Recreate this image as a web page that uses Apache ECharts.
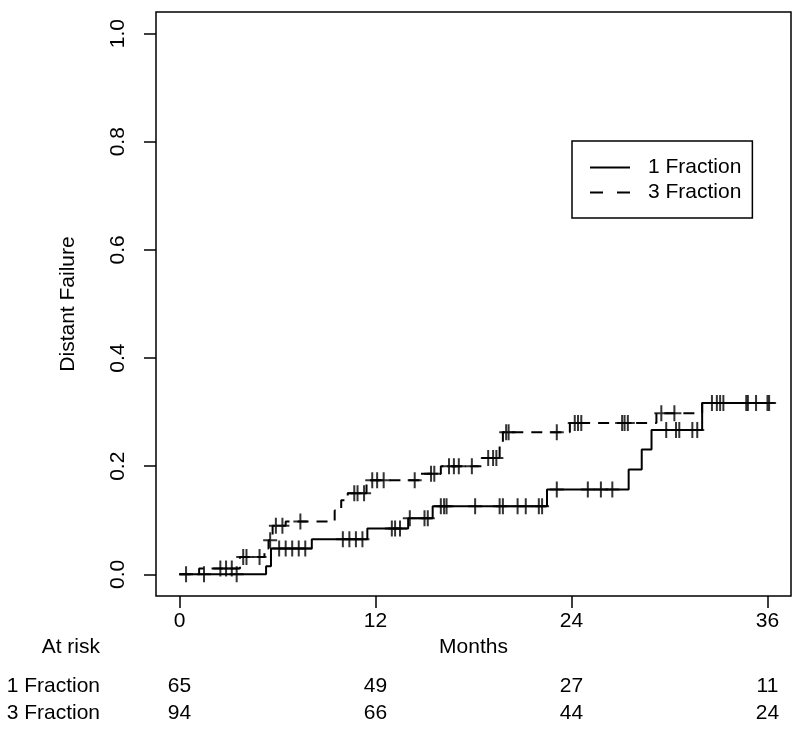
<!DOCTYPE html>
<html>
<head>
<meta charset="utf-8">
<script src="https://cdn.jsdelivr.net/npm/echarts@6/dist/echarts.min.js"></script>
<style>
  html, body { margin: 0; padding: 0; background: #fff; }
  #main { width: 800px; height: 730px; }
</style>
</head>
<body>
<div id="main"></div>
<script>
var FONT = '"Liberation Sans", Arial, Helvetica, sans-serif';

// step times (months) and cumulative distant failure
var times1 = [0, 5.3, 5.6, 8.1, 11.5, 14.0, 15.5, 22.5, 27.5, 28.3, 28.9, 32.0];
var vals1  = [0, 0.015, 0.048, 0.065, 0.085, 0.104, 0.126, 0.157, 0.194, 0.231, 0.267, 0.317];
var end1 = 36.0;
var cens1 = [0.4, 1.5, 3.5, 6.1, 6.5, 6.9, 7.3, 7.7, 10.0, 10.4, 10.8, 11.2, 13.0, 13.2, 13.5,
  14.1, 15.0, 15.2, 16.0, 16.2, 16.35, 18.1, 19.6, 19.8, 20.7, 21.2, 22.0, 22.2, 23.1, 25.0,
  25.8, 26.5, 29.8, 30.4, 30.6, 31.4, 31.7, 32.9, 33.3, 34.8, 36.0];

var times2 = [0, 1.2, 3.7, 5.2, 5.45, 5.7, 6.5, 9.5, 9.9, 10.3, 11.45, 14.7, 16.0, 18.5, 19.6, 19.8, 23.9, 29.2, 32.0];
var vals2  = [0, 0.011, 0.032, 0.048, 0.063, 0.09, 0.098, 0.118, 0.137, 0.15, 0.174, 0.186, 0.2, 0.215, 0.24, 0.263, 0.28, 0.298, 0.317];
var end2 = 36.1;
var cens2 = [2.5, 2.85, 3.2, 3.9, 4.1, 4.9, 5.55, 5.9, 6.3, 7.4, 10.7, 10.9, 11.3, 11.8, 12.1,
  12.5, 14.4, 15.4, 15.6, 16.5, 16.8, 17.1, 17.9, 18.9, 19.2, 19.4, 20.0, 20.15, 23.1, 24.2,
  24.4, 24.6, 27.1, 27.25, 27.45, 29.5, 30.3, 32.6, 33.1, 34.7, 35.3, 36.1];

var groups = ['1 Fraction', '3 Fraction'];
var xTicks = [0, 12, 24, 36];
var yTicks = [0, 0.2, 0.4, 0.6, 0.8, 1.0];
var risk1 = [65, 49, 27, 11];
var risk2 = [94, 66, 44, 24];

function stepAt(ts, vs, t) {
  var v = vs[0];
  for (var i = 0; i < ts.length; i++) { if (ts[i] <= t) v = vs[i]; }
  return v;
}
function curve(ts, vs, end) {
  var d = ts.map(function (t, i) { return [t, vs[i]]; });
  d.push([end, vs[vs.length - 1]]);
  return d;
}
function marks(ts, vs, cs) {
  return cs.map(function (t) { return [t, stepAt(ts, vs, t)]; });
}

var plus = 'path://M6,0H8V7H14V9H8V16H6V9H0V7H6Z';
// legend keys drawn as filled strips
var keySolid = 'path://M0,0H40V2H0Z';
var keyDash = 'path://M0,0H13V2H0ZM27,0H40V2H27Z';

var myChart = echarts.init(document.getElementById('main'));

var option = {
  backgroundColor: '#fff',
  animation: false,
  textStyle: { fontFamily: FONT, color: '#000' },
  grid: {
    left: 156, right: 9, top: 12, bottom: 134,
    show: true, borderColor: '#000', borderWidth: 1.5, backgroundColor: 'transparent'
  },
  legend: {
    data: [
      { name: groups[0], icon: keySolid },
      { name: groups[1], icon: keyDash }
    ],
    orient: 'vertical',
    left: 572, top: 141,
    padding: [16, 11, 15, 18],
    itemWidth: 40, itemHeight: 2, itemGap: 4,
    itemStyle: { color: '#000', borderWidth: 0 },
    borderColor: '#000', borderWidth: 1.5, borderRadius: 0,
    textStyle: { fontSize: 21, color: '#000', fontFamily: FONT, padding: [0, 0, 0, 13] }
  },
  xAxis: {
    type: 'value', min: -1.44, max: 37.44,
    name: 'Months', nameLocation: 'middle', nameGap: 40,
    nameTextStyle: { fontSize: 21, color: '#000', fontFamily: FONT },
    axisLine: { show: false, onZero: false },
    axisTick: { show: true, length: 12, customValues: xTicks, lineStyle: { color: '#000', width: 1.5 } },
    axisLabel: { customValues: xTicks, margin: 15, fontSize: 21, color: '#000', fontFamily: FONT },
    splitLine: { show: false }
  },
  yAxis: {
    type: 'value', min: -0.04, max: 1.04,
    name: 'Distant Failure', nameLocation: 'middle', nameGap: 77,
    nameTextStyle: { fontSize: 21, color: '#000', fontFamily: FONT },
    axisLine: { show: false, onZero: false },
    axisTick: { show: true, length: 12, customValues: yTicks, lineStyle: { color: '#000', width: 1.5 } },
    axisLabel: {
      customValues: yTicks, rotate: 90, margin: 27, fontSize: 21, color: '#000', fontFamily: FONT,
      formatter: function (v) { return v.toFixed(1); }
    },
    splitLine: { show: false }
  },
  series: [
    {
      name: groups[0], type: 'line', step: 'end', symbol: 'none',
      data: curve(times1, vals1, end1),
      color: '#000',
      lineStyle: { color: '#000', width: 2 }
    },
    {
      name: groups[1], type: 'line', step: 'end', symbol: 'none',
      data: curve(times2, vals2, end2),
      color: '#000',
      lineStyle: { color: '#000', width: 2, type: [11, 8] }
    },
    {
      name: 'cens1', type: 'scatter', symbol: plus, symbolSize: [14, 16],
      data: marks(times1, vals1, cens1),
      itemStyle: { color: '#000' }
    },
    {
      name: 'cens2', type: 'scatter', symbol: plus, symbolSize: [14, 16],
      data: marks(times2, vals2, cens2),
      itemStyle: { color: '#000' }
    }
  ]
};
myChart.setOption(option);

// at-risk table under the x axis, placed through the x scale
var txt = function (x, y, s, align) {
  return {
    type: 'text', x: x, y: y,
    style: { text: s, fontSize: 21, fontFamily: FONT, fill: '#000', align: align, verticalAlign: 'middle' }
  };
};
var g = [
  txt(100, 647, 'At risk', 'right'),
  txt(100, 686, groups[0], 'right'),
  txt(100, 713, groups[1], 'right')
];
xTicks.forEach(function (t, i) {
  var px = myChart.convertToPixel({ xAxisIndex: 0 }, t);
  g.push(txt(px, 686, String(risk1[i]), 'center'));
  g.push(txt(px, 713, String(risk2[i]), 'center'));
});
myChart.setOption({ graphic: g });
</script>
</body>
</html>
